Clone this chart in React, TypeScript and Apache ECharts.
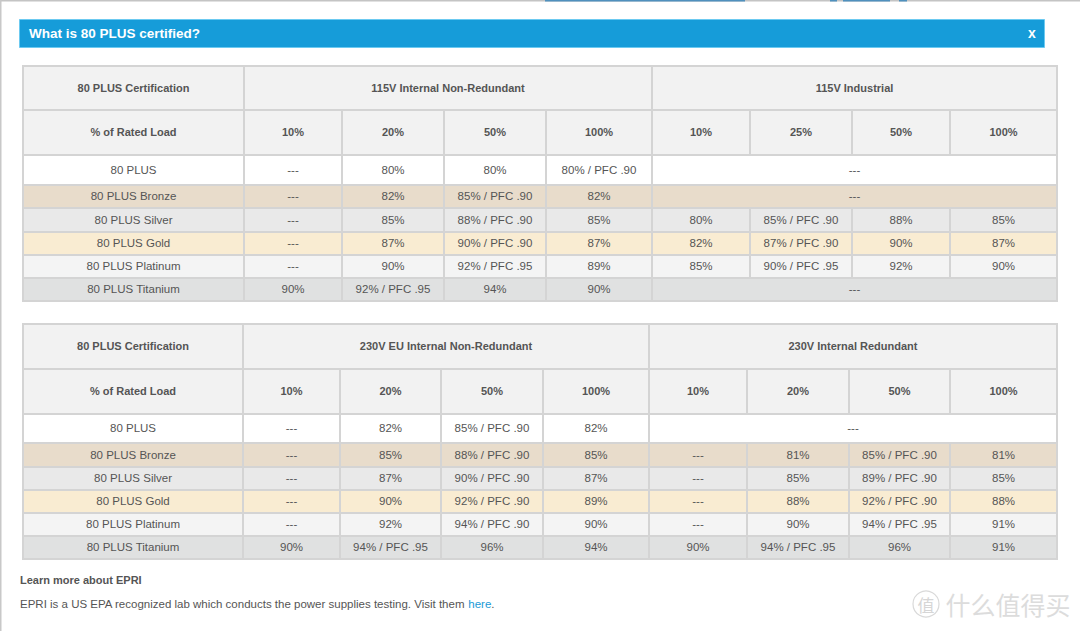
import React, { useEffect, useRef } from "react";
import * as echarts from "echarts";

// ---- data ----
const title = "What is 80 PLUS certified?";
const certHeader = "80 PLUS Certification";
const loadHeader = "% of Rated Load";
const tiers = ["80 PLUS", "80 PLUS Bronze", "80 PLUS Silver", "80 PLUS Gold", "80 PLUS Platinum", "80 PLUS Titanium"];

const t1Groups = ["115V Internal Non-Redundant", "115V Industrial"];
const t1Loads = ["10%", "20%", "50%", "100%", "10%", "25%", "50%", "100%"];
const t1NonRedundant: (string[] | null)[] = [
  ["---", "80%", "80%", "80% / PFC .90"],
  ["---", "82%", "85% / PFC .90", "82%"],
  ["---", "85%", "88% / PFC .90", "85%"],
  ["---", "87%", "90% / PFC .90", "87%"],
  ["---", "90%", "92% / PFC .95", "89%"],
  ["90%", "92% / PFC .95", "94%", "90%"],
];
const t1Industrial: (string[] | null)[] = [
  null,
  null,
  ["80%", "85% / PFC .90", "88%", "85%"],
  ["82%", "87% / PFC .90", "90%", "87%"],
  ["85%", "90% / PFC .95", "92%", "90%"],
  null,
];

const t2Groups = ["230V EU Internal Non-Redundant", "230V Internal Redundant"];
const t2Loads = ["10%", "20%", "50%", "100%", "10%", "20%", "50%", "100%"];
const t2EuNonRedundant: (string[] | null)[] = [
  ["---", "82%", "85% / PFC .90", "82%"],
  ["---", "85%", "88% / PFC .90", "85%"],
  ["---", "87%", "90% / PFC .90", "87%"],
  ["---", "90%", "92% / PFC .90", "89%"],
  ["---", "92%", "94% / PFC .90", "90%"],
  ["90%", "94% / PFC .95", "96%", "94%"],
];
const t2Redundant: (string[] | null)[] = [
  null,
  ["---", "81%", "85% / PFC .90", "81%"],
  ["---", "85%", "89% / PFC .90", "85%"],
  ["---", "88%", "92% / PFC .90", "88%"],
  ["---", "90%", "94% / PFC .95", "91%"],
  ["90%", "94% / PFC .95", "96%", "91%"],
];
const mergedText = "---";

const footerHeading = "Learn more about EPRI";
const footerText = "EPRI is a US EPA recognized lab which conducts the power supplies testing. Visit them ";
const footerLink = "here";
const watermarkIcon = "值";
const watermarkText = "什么值得买";

// ---- layout / styles ----
const t1Cols = [23, 244, 342, 444, 546, 652, 750, 852, 950, 1057];
const t1Rows = [66, 110, 155, 185, 208, 232, 255, 278, 301];
const t2Cols = [23, 243, 340, 441, 543, 649, 747, 849, 950, 1057];
const t2Rows = [324, 369, 414, 443, 467, 490, 513, 536, 559];
const rowFills = ["#ffffff", "#e8dccb", "#e9e9e9", "#f9ecd2", "#f4f4f4", "#e0e1e1"];
const headerFill = "#f2f2f2";
const borderColor = "#d4d4d4";
const textColor = "#555555";
const FONT = "'Liberation Sans', Arial, Helvetica, sans-serif";

function txt(text: string, x: number, y: number, opts: any = {}) {
  return {
    type: "text",
    silent: true,
    style: {
      text,
      x,
      y,
      align: opts.align || "center",
      verticalAlign: "middle",
      textAlign: opts.align || "center",
      textVerticalAlign: "middle",
      fontFamily: opts.fontFamily || FONT,
      fontSize: opts.fontSize || 11.5,
      fontWeight: opts.fontWeight || "normal",
      fill: opts.fill || textColor,
    },
  };
}

function cell(x0: number, x1: number, y0: number, y1: number, fill: string, text: string, bold: boolean) {
  return [
    {
      type: "rect",
      silent: true,
      shape: { x: x0 + 1, y: y0 + 1, width: x1 - x0 - 2, height: y1 - y0 - 2 },
      style: { fill },
    },
    txt(text, (x0 + x1) / 2, (y0 + y1) / 2 - 0.5, bold ? { fontWeight: "bold", fontSize: 11 } : {}),
  ];
}

function buildTable(
  cols: number[],
  rows: number[],
  groups: string[],
  loads: string[],
  groupA: (string[] | null)[],
  groupB: (string[] | null)[]
) {
  const els: any[] = [];
  els.push({
    type: "rect",
    silent: true,
    shape: { x: cols[0] - 1, y: rows[0] - 1, width: cols[9] - cols[0] + 2, height: rows[8] - rows[0] + 2 },
    style: { fill: borderColor },
  });
  // header row 1
  els.push(...cell(cols[0], cols[1], rows[0], rows[1], headerFill, certHeader, true));
  els.push(...cell(cols[1], cols[5], rows[0], rows[1], headerFill, groups[0], true));
  els.push(...cell(cols[5], cols[9], rows[0], rows[1], headerFill, groups[1], true));
  // header row 2
  els.push(...cell(cols[0], cols[1], rows[1], rows[2], headerFill, loadHeader, true));
  loads.forEach((l, i) => els.push(...cell(cols[i + 1], cols[i + 2], rows[1], rows[2], headerFill, l, true)));
  // data rows
  tiers.forEach((tier, r) => {
    const y0 = rows[r + 2];
    const y1 = rows[r + 3];
    const fill = rowFills[r];
    els.push(...cell(cols[0], cols[1], y0, y1, fill, tier, false));
    [groupA[r], groupB[r]].forEach((vals, g) => {
      const base = 1 + g * 4;
      if (vals === null) {
        els.push(...cell(cols[base], cols[base + 4], y0, y1, fill, mergedText, false));
      } else {
        vals.forEach((v, i) => els.push(...cell(cols[base + i], cols[base + i + 1], y0, y1, fill, v, false)));
      }
    });
  });
  return els;
}

export default function App() {
  const ref = useRef<HTMLDivElement>(null);
  useEffect(() => {
    document.body.style.margin = "0";
    const chart = echarts.init(ref.current!, undefined, { renderer: "svg" });
    const elements: any[] = [];
    // page frame lines
    elements.push({ type: "rect", silent: true, shape: { x: 0, y: 0, width: 1080, height: 1.5 }, style: { fill: "#c4c4c4" } });
    elements.push({ type: "rect", silent: true, shape: { x: 0, y: 0, width: 1.5, height: 631 }, style: { fill: "#c8c8c8" } });
    [[545, 745], [830, 837], [843, 890], [899, 907]].forEach(([a, b]) =>
      elements.push({ type: "rect", silent: true, shape: { x: a, y: 0, width: b - a, height: 1.5 }, style: { fill: "#4f90bd" } })
    );
    // title bar
    elements.push({
      type: "rect",
      silent: true,
      shape: { x: 19.5, y: 19.5, width: 1025, height: 28 },
      style: { fill: "#169cd9", stroke: "#6ccaf1", lineWidth: 1 },
    });
    elements.push(txt(title, 29, 33, { align: "left", fontWeight: "bold", fontSize: 13.5, fill: "#ffffff" }));
    elements.push(txt("x", 1032, 33, { fontWeight: "bold", fontSize: 14, fill: "#ffffff" }));
    // tables
    elements.push(...buildTable(t1Cols, t1Rows, t1Groups, t1Loads, t1NonRedundant, t1Industrial));
    elements.push(...buildTable(t2Cols, t2Rows, t2Groups, t2Loads, t2EuNonRedundant, t2Redundant));
    // footer
    elements.push(txt(footerHeading, 20, 580, { align: "left", fontWeight: "bold", fontSize: 11 }));
    elements.push({
      type: "text",
      silent: true,
      style: {
        text: "{a|" + footerText + "}{b|" + footerLink + "}{a|.}",
        x: 20,
        y: 604,
        align: "left",
        verticalAlign: "middle",
        textAlign: "left",
        textVerticalAlign: "middle",
        fontFamily: FONT,
        fontSize: 11.5,
        fill: textColor,
        rich: {
          a: { fontFamily: FONT, fontSize: 11.5, fill: textColor, color: textColor },
          b: { fontFamily: FONT, fontSize: 11.5, fill: "#1a9ad6", color: "#1a9ad6" },
        },
      },
    });
    // watermark
    elements.push({
      type: "circle",
      silent: true,
      shape: { cx: 926, cy: 604, r: 13 },
      style: { fill: "none", stroke: "#d9d9d9", lineWidth: 1.2 },
    });
    elements.push(txt(watermarkIcon, 926, 604, { fontFamily: "'Noto Sans CJK SC', sans-serif", fontSize: 17, fill: "#d6d6d6" }));
    elements.push(txt(watermarkText, 1008, 604, { fontFamily: "'Noto Sans CJK SC', sans-serif", fontSize: 25, fill: "#dcdcdc" }));

    chart.setOption({
      animation: false,
      backgroundColor: "#ffffff",
      graphic: { elements },
    });
    return () => chart.dispose();
  }, []);
  return <div ref={ref} style={{ width: 1080, height: 631 }} />;
}
